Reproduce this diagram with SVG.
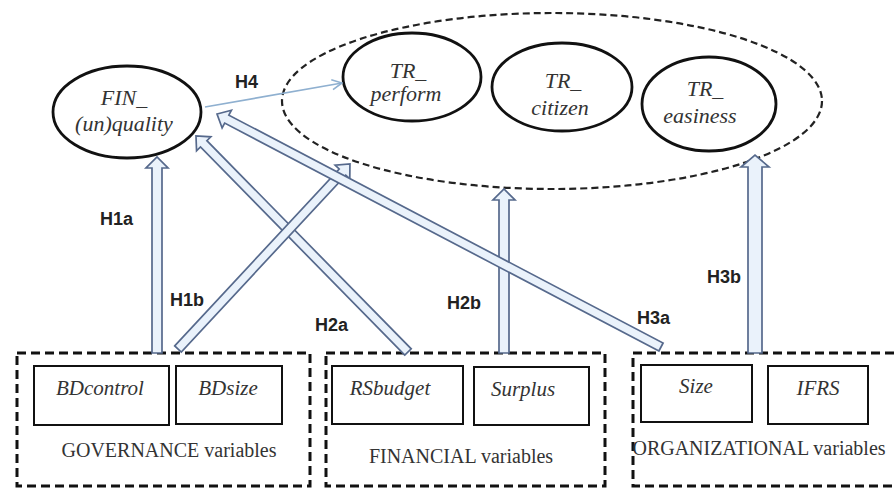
<svg xmlns="http://www.w3.org/2000/svg" width="895" height="488" viewBox="0 0 895 488">
<defs>
<style>
.node{fill:none;stroke:#111;stroke-width:2.8}
.grp{fill:none;stroke:#111;stroke-width:3;stroke-dasharray:9 5}
.big{fill:none;stroke:#222;stroke-width:2.2;stroke-dasharray:7 4}
.box{fill:#fff;stroke:#111;stroke-width:2}
.it{font-family:"Liberation Serif","Times New Roman",serif;font-style:italic;font-size:22px;fill:#333;text-anchor:middle}
.bl{font-family:"Liberation Serif","Times New Roman",serif;font-style:italic;font-size:21px;fill:#333;text-anchor:middle}
.gl{font-family:"Liberation Serif","Times New Roman",serif;font-size:20px;fill:#333;text-anchor:middle}
.hl{font-family:"Liberation Sans",Arial,sans-serif;font-weight:bold;font-size:18px;fill:#222}
.arr{fill:#eaf2fb;stroke:#56698c;stroke-width:1.7;stroke-linejoin:miter}
.thin{fill:none;stroke:#8fb0d0;stroke-width:1.6}
</style>
<marker id="vhead" viewBox="0 0 12 12" refX="11" refY="6" markerWidth="12" markerHeight="12" markerUnits="userSpaceOnUse" orient="auto">
<path d="M1,1 L11,6 L1,11" fill="none" stroke="#8fb0d0" stroke-width="1.6"/>
</marker>
</defs>
<rect width="895" height="488" fill="#fff"/>

<g id="tr-group"><ellipse class="big" cx="552" cy="101" rx="270" ry="88"/></g>

<g id="fin-quality">
<ellipse class="node" cx="127" cy="112" rx="74" ry="46"/>
<text class="it" x="124" y="105">FIN_</text>
<text class="it" x="124" y="131">(un)quality</text>
</g>
<g id="tr-perform">
<ellipse class="node" cx="412" cy="77" rx="69" ry="44"/>
<text class="it" x="408" y="78">TR_</text>
<text class="it" x="406" y="101">perform</text>
</g>
<g id="tr-citizen">
<ellipse class="node" cx="562" cy="87" rx="70" ry="44"/>
<text class="it" x="563" y="88">TR_</text>
<text class="it" x="560" y="115">citizen</text>
</g>
<g id="tr-easiness">
<ellipse class="node" cx="709" cy="104" rx="67" ry="47"/>
<text class="it" x="705" y="96">TR_</text>
<text class="it" x="700" y="123">easiness</text>
</g>

<g id="governance">
<rect class="grp" x="17" y="353" width="293" height="133"/>
<g id="bdcontrol"><rect class="box" x="34" y="366" width="135" height="59"/><text class="bl" x="100" y="395">BDcontrol</text></g>
<g id="bdsize"><rect class="box" x="176" y="366" width="106" height="58"/><text class="bl" x="228" y="395">BDsize</text></g>
<text class="gl" x="169" y="457">GOVERNANCE variables</text>
</g>
<g id="financial">
<rect class="grp" x="326" y="353" width="279" height="133"/>
<g id="rsbudget"><rect class="box" x="332" y="366" width="131" height="58"/><text class="bl" x="390" y="395">RSbudget</text></g>
<g id="surplus"><rect class="box" x="474" y="367" width="115" height="58"/><text class="bl" x="523" y="396">Surplus</text></g>
<text class="gl" x="461" y="463">FINANCIAL variables</text>
</g>
<g id="organizational">
<rect class="grp" x="633" y="353" width="280" height="133"/>
<g id="size"><rect class="box" x="641" y="365" width="111" height="57"/><text class="bl" x="696" y="393">Size</text></g>
<g id="ifrs"><rect class="box" x="768" y="366" width="100" height="58"/><text class="bl" x="818" y="395">IFRS</text></g>
<text class="gl" x="759" y="455">ORGANIZATIONAL variables</text>
</g>

<g id="connectors">
<line class="thin" x1="205" y1="107" x2="342" y2="83" marker-end="url(#vhead)"/>
<g transform="translate(157,353) rotate(-90)"><path class="arr" d="M0,-5 H185 V-11 L196,0 L185,11 V5 H0 Z"/></g>
<g transform="translate(504,353) rotate(-90)"><path class="arr" d="M0,-5 H153 V-11 L164,0 L153,11 V5 H0 Z"/></g>
<g transform="translate(755,353) rotate(-90)"><path class="arr" d="M0,-7 H186 V-14 L198,0 L186,14 V7 H0 Z"/></g>
<g transform="translate(408,352) rotate(-134.46)"><path class="arr" d="M0,-4.5 H291.7 V-10 L302.7,0 L291.7,10 V4.5 H0 Z"/></g>
<g transform="translate(178,349) rotate(-47.1)"><path class="arr" d="M0,-4.5 H241.6 V-10 L252.6,0 L241.6,10 V4.5 H0 Z"/></g>
<g transform="translate(661,347) rotate(-152.31)"><path class="arr" d="M0,-4.5 H490.4 V-10 L501.4,0 L490.4,10 V4.5 H0 Z"/></g>
</g>

<g id="labels">
<text class="hl" x="235" y="88">H4</text>
<text class="hl" x="100" y="225">H1a</text>
<text class="hl" x="170" y="306">H1b</text>
<text class="hl" x="315" y="331">H2a</text>
<text class="hl" x="447" y="309">H2b</text>
<text class="hl" x="637" y="324">H3a</text>
<text class="hl" x="707" y="283">H3b</text>
</g>
</svg>
